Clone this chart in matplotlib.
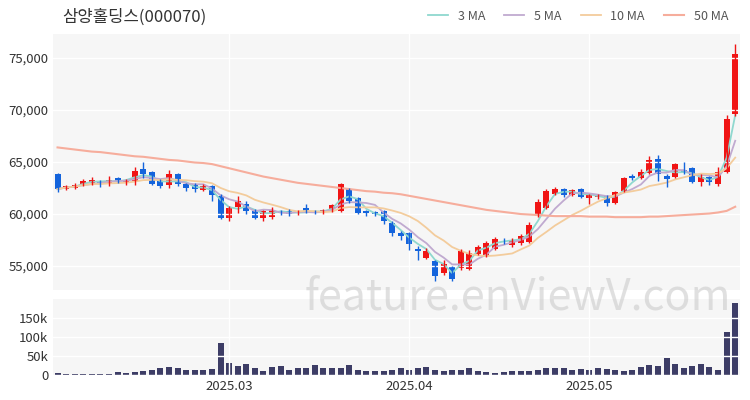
import numpy as np
import pandas as pd
import matplotlib
matplotlib.use('Agg')
import matplotlib.pyplot as plt

plt.rcParams['font.family'] = ['Noto Sans CJK KR', 'DejaVu Sans']

# candle data
opens = [63800,62400,62500,62800,63000,63200,62900,63500,63000,63200,
         64300,64000,63300,62800,63800,62900,62900,62300,62700,61700,
         59600,60700,61000,60300,59600,59700,60300,60300,60100,60600,
         60300,60200,60500,60300,62400,61500,60300,60200,60300,59100,
         58200,58200,56600,55800,55500,54300,54900,54800,54700,56200,
         56000,56600,57400,57000,57200,57300,59800,60600,61900,62400,
         61800,62400,61500,61600,61700,61100,62200,63700,63500,63900,
         65300,63700,63600,64200,64400,63100,63600,62900,64000,69600]
closes = [62400,62700,62800,63200,63300,62900,63300,63200,63300,64100,
          63800,62900,62700,63800,62900,62500,62400,62700,61800,59600,
          60600,61300,60300,59600,60300,60400,60100,60000,60300,60200,
          60200,60400,60900,62900,61300,60100,60100,60000,59300,58200,
          57900,57100,56400,56400,54000,55200,53800,56400,56300,56800,
          57200,57600,57300,57500,57900,58900,61200,62200,62400,61800,
          62300,61600,61800,61800,61100,62100,63500,63500,64000,65200,
          63800,63400,64800,63900,63100,63600,63100,64000,69100,75400]
highs = [63900,62800,63000,63400,63600,63300,63700,63600,63400,64500,
         65000,64100,63400,64200,63900,63000,63000,62900,62800,61900,
         60800,61700,61300,60500,60400,60700,60400,60500,60400,61000,
         60400,60500,61000,63000,62500,61600,60400,60300,60400,59300,
         58400,58300,56900,56700,55600,55600,55000,56600,56500,57000,
         57400,57800,57700,57700,58100,59200,61400,62400,62600,62500,
         62400,62500,61900,61900,61800,62200,63600,63800,64300,65600,
         65700,63800,64900,65000,64500,63800,63700,64500,69500,76300]
lows = [62100,62300,62400,62700,62800,62600,62700,63000,62800,62800,
        63500,62800,62500,62500,62700,62200,62100,62200,61300,59500,
        59300,60100,60000,59500,59300,59500,59900,59800,59900,60100,
        60000,60000,60200,60200,61100,60000,59800,59800,59000,57900,
        57500,56500,55600,55700,53600,54100,53600,54600,54600,56100,
        55900,56500,57100,56800,57000,57200,59700,60500,61800,61600,
        61700,61500,61000,61400,60800,61000,62100,63300,63400,63800,
        63200,62600,63500,63800,63000,62700,62800,62700,63900,69400]
ma50 = [66400,66300,66200,66100,66000,65950,65850,65750,65650,65550,
        65500,65400,65300,65200,65150,65050,64950,64900,64800,
        64600,64400,64200,64000,63800,63600,63450,63300,63150,63000,62900,62800,62700,
        62600,62500,62400,62300,62200,62150,62050,62000,61900,
        61750,61600,61450,61300,61150,61000,60850,60700,60550,60400,60300,60200,
        60100,60000,59950,59900,59850,59800,59800,
        59800,59800,59750,59750,59750,59700,59700,59700,59700,
        59750,59750,59800,59850,59900,59950,60000,60050,60150,60300,60700]
volume_k = [5,3,3,3,3,4,2,8,5,8,12,15,18,22,18,15,14,14,16,
            84,
            32,25,30,18,12,22,25,15,20,20,28,18,18,20,28,15,12,10,12,15,
            18,14,18,22,15,12,14,15,18,10,8,6,8,10,12,10,14,18,20,18,
            15,16,14,18,16,15,12,14,22,28,25,45,30,18,25,30,22,15,115,190]
tick_pos = [20, 41, 62]
tick_labels = ['2025.03', '2025.04', '2025.05']

x = np.arange(len(closes))
s = pd.Series(closes)
ma3 = s.rolling(3, min_periods=1).mean()
ma5 = s.rolling(5, min_periods=1).mean()
ma10 = s.rolling(10, min_periods=1).mean()

up_c = '#f01414'
dn_c = '#1464dc'

fig = plt.figure(figsize=(7.5, 4), dpi=100)
ax = fig.add_axes([0.071, 0.275, 0.915, 0.64])
axv = fig.add_axes([0.071, 0.062, 0.915, 0.19], sharex=ax)
for a in (ax, axv):
    a.set_facecolor('#f6f6f6')
    for sp in a.spines.values():
        sp.set_visible(False)
    a.grid(True, color='white', lw=1)
    a.tick_params(length=0, labelsize=9.5, colors='#333333')

ax.plot(x, ma3, color='#8fd8cf', lw=1.3, label='3 MA')
ax.plot(x, ma5, color='#c0aad0', lw=1.3, label='5 MA')
ax.plot(x, ma10, color='#f3cc9c', lw=1.3, label='10 MA')
ax.plot(x, ma50, color='#f6ad9c', lw=1.5, label='50 MA')

for i in x:
    c = up_c if closes[i] >= opens[i] else dn_c
    ax.vlines(i, lows[i], highs[i], color=c, lw=1)
    lo = min(opens[i], closes[i])
    h = max(abs(closes[i] - opens[i]), 80)
    ax.bar(i, h, bottom=lo, width=0.7, color=c)

ax.set_ylim(52700, 77300)
ax.set_yticks([55000, 60000, 65000, 70000, 75000])
ax.set_yticklabels(['55,000', '60,000', '65,000', '70,000', '75,000'])
ax.set_xlim(-0.5, len(x) - 0.5)
ax.tick_params(labelbottom=False)
ax.legend(loc='lower right', bbox_to_anchor=(1.0, 1.0), ncol=4, frameon=False,
          fontsize=9, handlelength=1.6, columnspacing=1.5, labelcolor='#555555')
fig.text(0.083, 0.945, '삼양홀딩스(000070)', fontsize=12, color='#333333')

axv.bar(x, volume_k, width=0.7, color='#3d3d66')
axv.set_ylim(0, 200)
axv.set_yticks([0, 50, 100, 150])
axv.set_yticklabels(['0', '50k', '100k', '150k'])
axv.set_xticks(tick_pos)
axv.set_xticklabels(tick_labels)

fig.text(0.69, 0.255, 'feature.enViewV.com', ha='center', va='center',
         fontsize=31, color='#c8c8c8', alpha=0.55)

fig.savefig('out.png')
